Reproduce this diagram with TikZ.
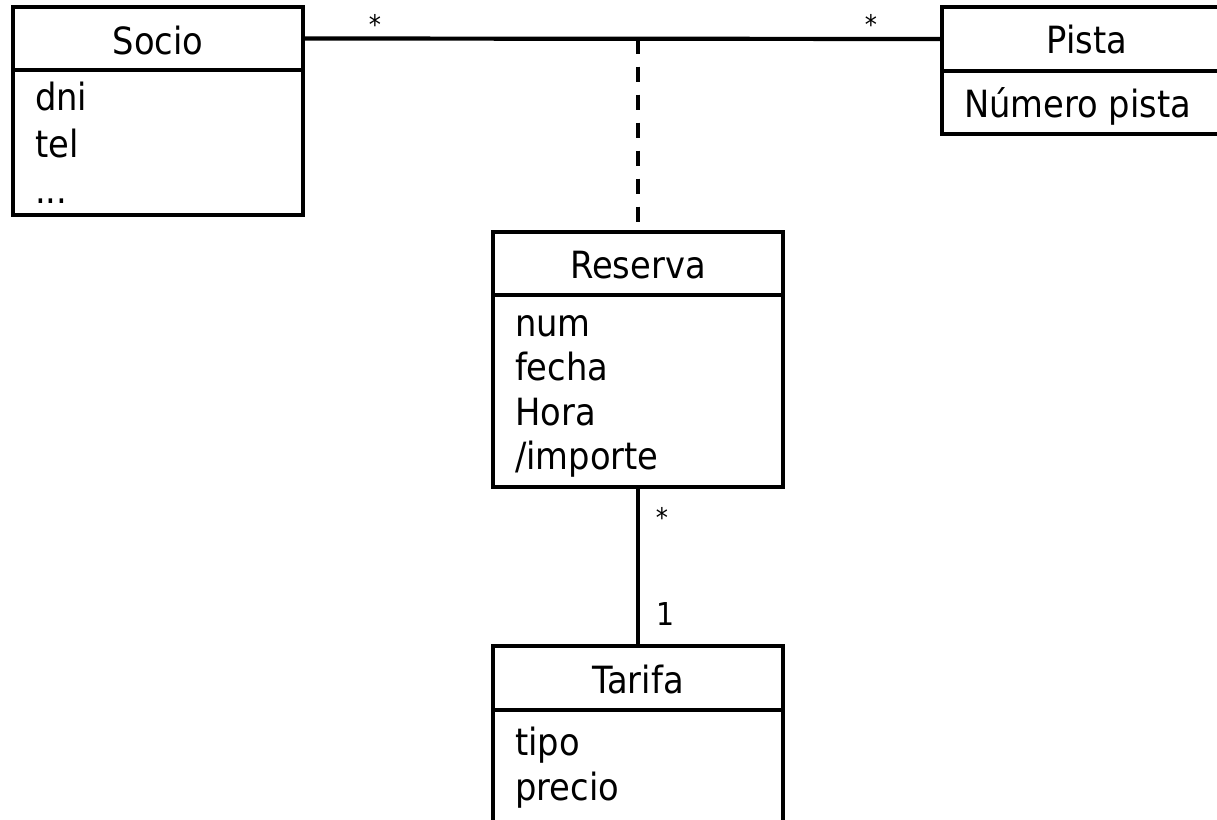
\documentclass[tikz,border=0pt]{standalone}
\usepackage{fontspec}
\setmainfont{DejaVu Sans}[FakeStretch=0.9]
\begin{document}
\begin{tikzpicture}[x=1pt,y=-1pt,
  line width=4.2pt,
  box/.style={draw, line width=4.2pt, minimum width=290pt, inner sep=0pt, outer sep=0pt, anchor=north west},
  ttl/.style={anchor=base, inner sep=0pt, font=\fontsize{37.5}{44}\selectfont},
  attr/.style={anchor=base west, inner sep=0pt, font=\fontsize{37.5}{44}\selectfont},
  mult/.style={anchor=base, inner sep=0pt, font=\fontsize{31.5}{36}\selectfont},
  star/.style={anchor=base, inner sep=0pt, font=\fontsize{27}{30}\selectfont}]
\useasboundingbox (0,0) rectangle (1217,819);
\fill[white] (0,0) rectangle (1217,819);

% Socio
\node[box, minimum height=63pt] (socio) at (13,7) {};
\node[box, minimum height=145pt] (socioA) at (13,70) {};
\node[ttl] (socioT) at (158,54) {Socio};
\node[attr] (socio1) at (33,110) {dni};
\node[attr] (socio2) at (33,157) {tel};
\node[attr] (socio3) at (33,203) {...};

% Pista
\node[box, minimum height=64pt] (pista) at (942,7) {};
\node[box, minimum height=63pt] (pistaA) at (942,71) {};
\node[ttl] (pistaT) at (1087,53) {Pista};
\node[attr] (pista1) at (962,117) {Número pista};

% Reserva
\node[box, minimum height=63pt] (reserva) at (493,232) {};
\node[box, minimum height=192pt] (reservaA) at (493,295) {};
\node[ttl] (reservaT) at (638,278) {Reserva};
\node[attr] (res1) at (513,336) {num};
\node[attr] (res2) at (513,380.5) {fecha};
\node[attr] (res3) at (513,425) {Hora};
\node[attr] (res4) at (513,469.5) {/importe};

% Tarifa
\node[box, minimum height=64pt] (tarifa) at (493,646) {};
\node[box, minimum height=150pt] (tarifaA) at (493,710) {};
\node[ttl] (tarifaT) at (638,693) {Tarifa};
\node[attr] (tar1) at (513,755) {tipo};
\node[attr] (tar2) at (513,800) {precio};

% connectors
\draw (socio.east) -- (pista.west);
\coordinate (j) at (reserva.north |- socio.east);
\draw[dash pattern=on 15pt off 13pt] (j) -- (reserva.north);
\draw (reservaA.south) -- (tarifa.north);

% multiplicities
\node[star] (m1) at (375,34) {*};
\node[star] (m2) at (871,34) {*};
\node[star] (m3) at (662,527) {*};
\node[mult] (m4) at (666,625) {1};
\end{tikzpicture}
\end{document}
